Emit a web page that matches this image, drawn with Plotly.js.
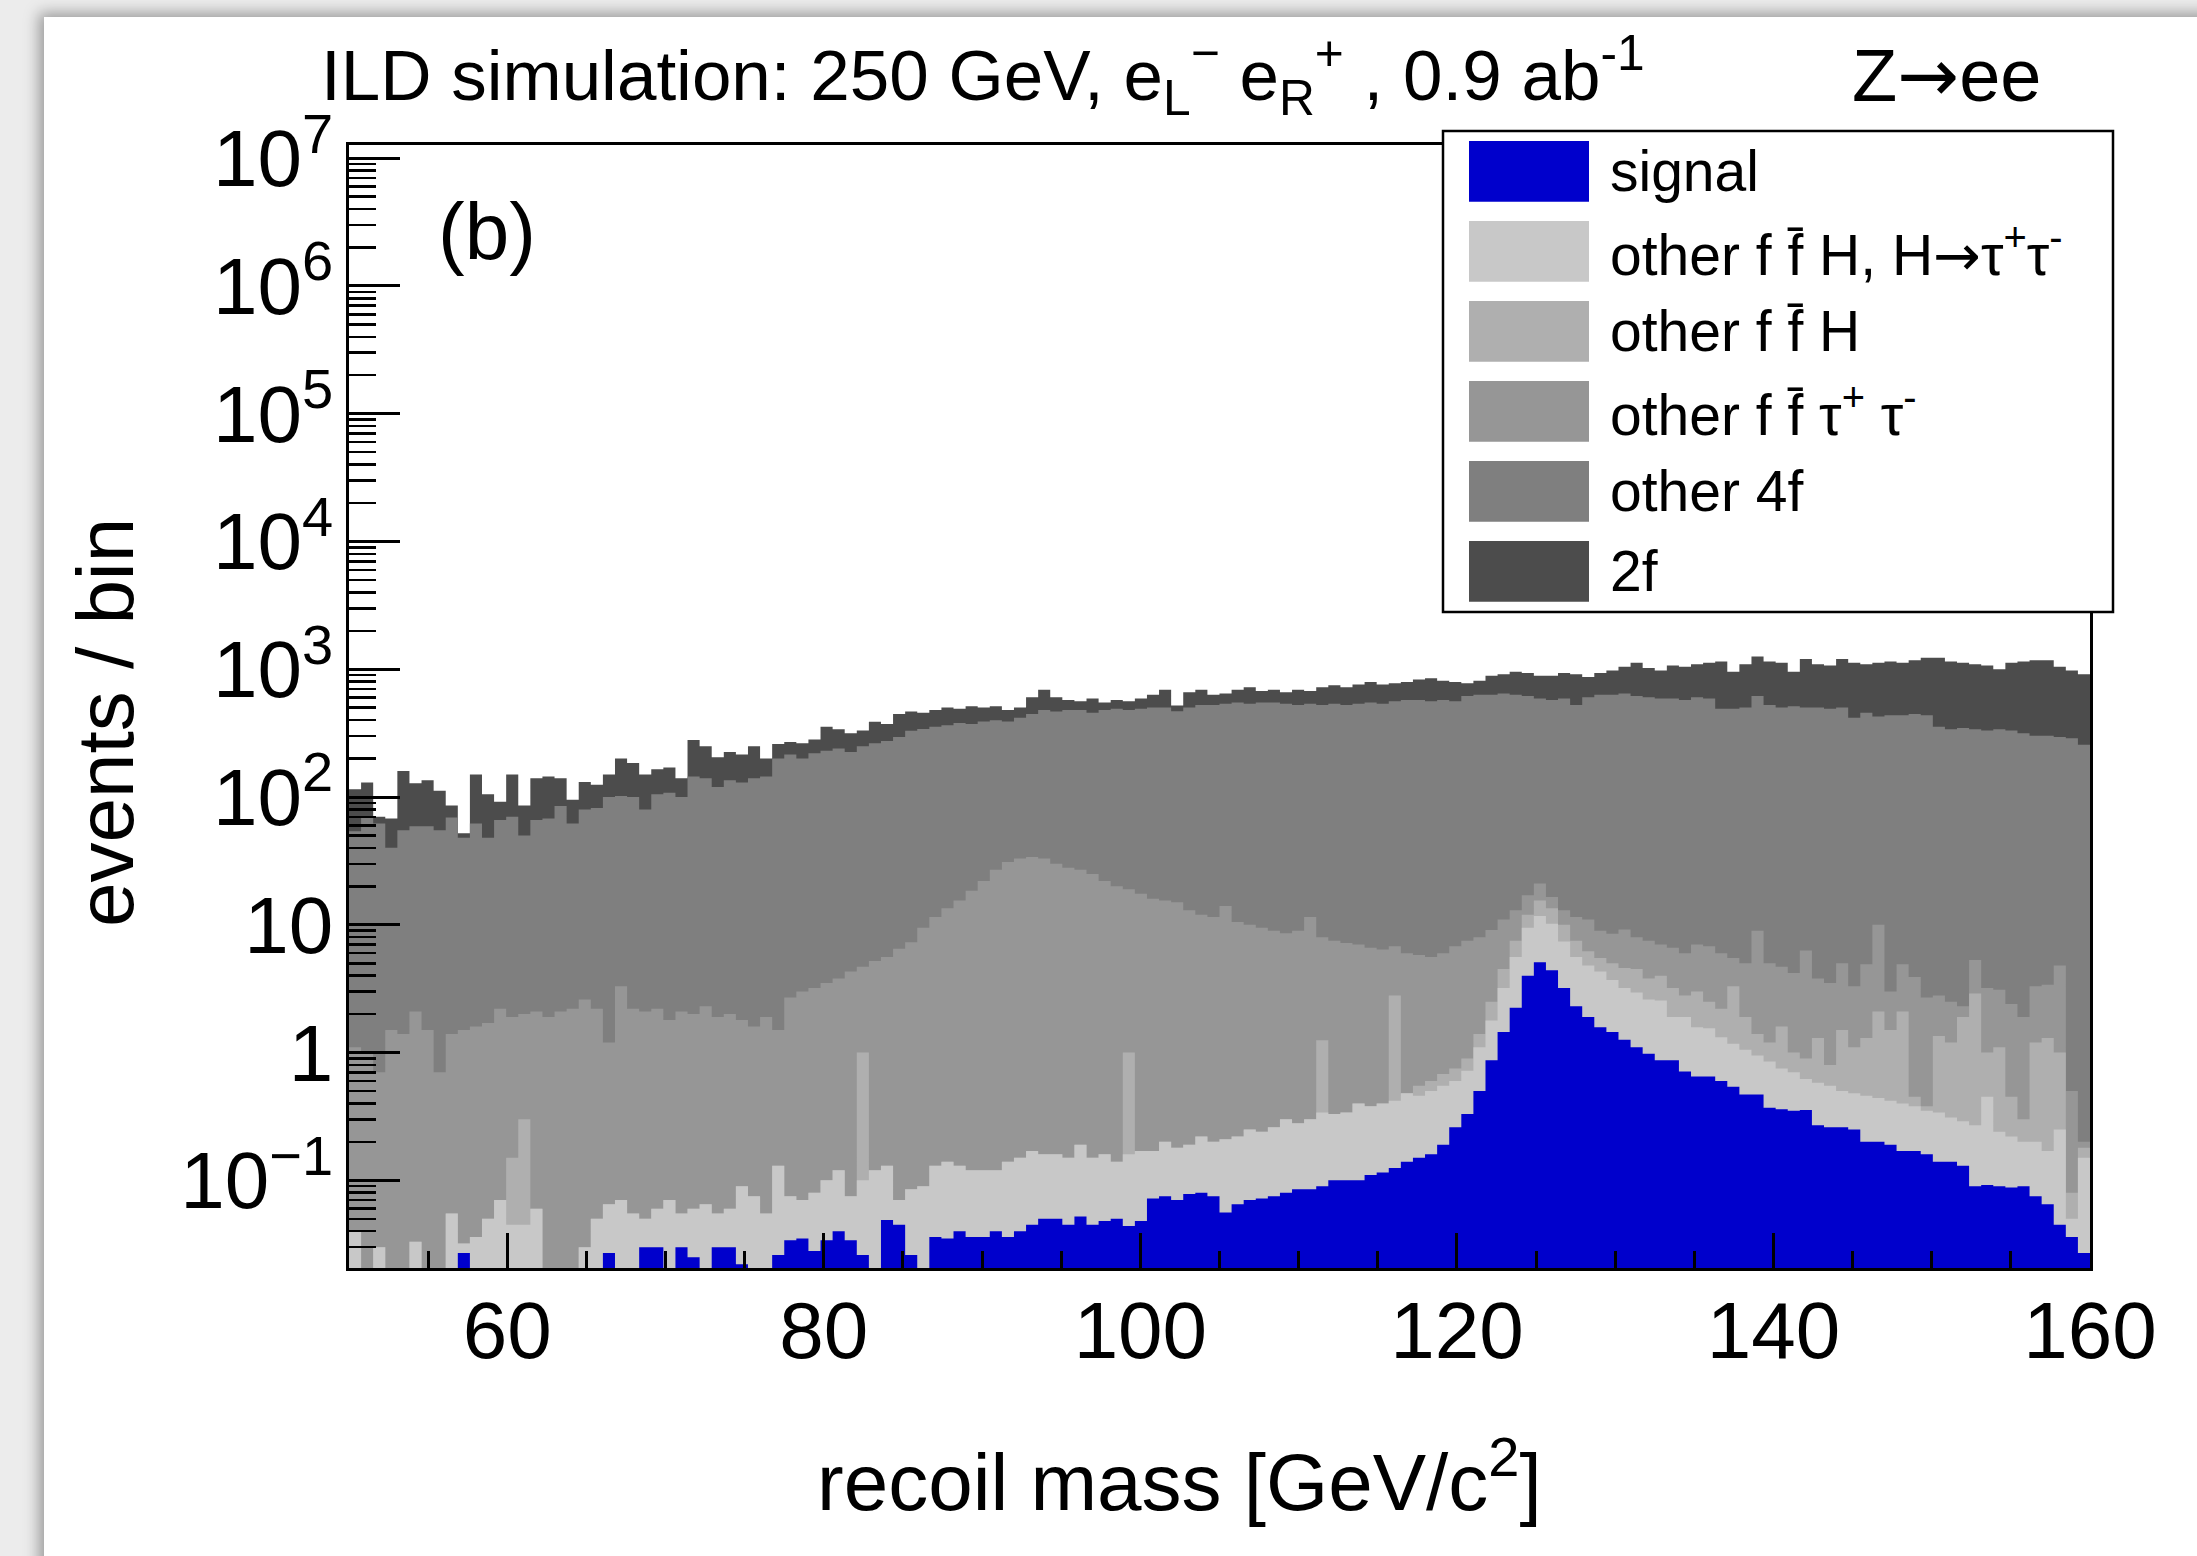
<!DOCTYPE html>
<html>
<head>
<meta charset="utf-8">
<script src="https://cdn.plot.ly/plotly-3.0.1.min.js"></script>
<style>
  html, body { margin: 0; padding: 0; }
  body { width: 2197px; height: 1556px; overflow: hidden; position: relative; background: #ececec; }
  #sheet { position: absolute; left: 44px; top: 17px; width: 2300px; height: 1700px; background: #ffffff;
           box-shadow: -3px -2px 14px 2px rgba(0,0,0,0.35); }
  #chart { position: absolute; left: 0; top: 0; width: 2197px; height: 1556px; }
</style>
</head>
<body>
<div id="sheet"></div>
<div id="chart"></div>
<script>
// ---------------- histogram binning (recoil mass, GeV) ----------------
const xLow = 50, xHigh = 160, nBins = 144;

// ---------------- stacked heights (THStack), events / bin ----------------
// each array is the height of the stack up to and including that process
const signal = [
  0,0,0,0,0,0,0,0,0,0.027,0,0,
  0,0,0,0,0,0,0,0,0,0.027,0,0,
  0.03,0.03,0,0.03,0.025,0,0.03,0.03,0.022,0,0,0.026,
  0.034,0.035,0.028,0.034,0.04,0.034,0.026,0,0.049,0.045,0.026,0,
  0.036,0.035,0.04,0.036,0.036,0.04,0.036,0.04,0.045,0.05,0.05,0.045,
  0.052,0.045,0.048,0.05,0.044,0.048,0.072,0.075,0.07,0.078,0.08,0.075,
  0.056,0.065,0.07,0.072,0.075,0.08,0.085,0.085,0.09,0.1,0.1,0.1,
  0.11,0.115,0.125,0.14,0.15,0.16,0.19,0.26,0.33,0.5,0.87,1.45,
  2.24,4.0,5.1,4.4,3.2,2.3,1.9,1.58,1.45,1.26,1.1,0.98,
  0.87,0.87,0.71,0.65,0.65,0.6,0.54,0.47,0.47,0.37,0.36,0.35,
  0.355,0.27,0.26,0.26,0.25,0.2,0.2,0.19,0.17,0.17,0.16,0.14,
  0.14,0.13,0.09,0.092,0.09,0.088,0.09,0.075,0.065,0.045,0.036,0.027
];
const stackFfHTauTau = [
  0.04,0,0.03,0,0,0.033,0,0,0.055,0.032,0.036,0.05,
  0.07,0.045,0.045,0.06,0,0,0,0.03,0.05,0.065,0.07,0.055,
  0.05,0.06,0.07,0.055,0.06,0.065,0.055,0.06,0.09,0.075,0.055,0.13,
  0.075,0.07,0.08,0.1,0.12,0.075,0.1,0.12,0.13,0.07,0.085,0.09,
  0.13,0.14,0.13,0.12,0.12,0.12,0.14,0.15,0.17,0.16,0.16,0.15,
  0.19,0.15,0.16,0.14,0.16,0.17,0.17,0.2,0.18,0.19,0.22,0.2,
  0.21,0.22,0.25,0.24,0.26,0.3,0.28,0.3,0.34,0.33,0.34,0.4,
  0.38,0.4,0.42,0.48,0.46,0.5,0.55,0.6,0.72,1.1,1.78,3.2,
  5.6,9.5,11.7,10.2,7.4,5.6,4.8,4.3,3.7,3.2,2.95,2.6,
  2.55,1.9,1.9,1.58,1.55,1.32,1.17,1.05,0.95,0.85,0.75,0.7,
  0.62,0.58,0.55,0.5,0.48,0.46,0.44,0.42,0.4,0.38,0.35,0.34,
  0.31,0.29,0.27,0.45,0.24,0.22,0.2,0.2,0.17,0.25,0.05,0.15
];
const stackFfH = [
  0.04,0,0.03,0,0,0.033,0,0,0.055,0.032,0.036,0.05,
  0.07,0.15,0.3,0.06,0,0,0,0.03,0.05,0.065,0.07,0.055,
  0.05,0.06,0.07,0.055,0.06,0.065,0.055,0.06,0.09,0.075,0.055,0.13,
  0.075,0.07,0.08,0.1,0.12,0.075,1.0,0.12,0.13,0.07,0.085,0.09,
  0.13,0.14,0.13,0.12,0.12,0.12,0.14,0.15,0.17,0.16,0.16,0.15,
  0.19,0.15,0.16,0.14,1.0,0.17,0.17,0.2,0.18,0.19,0.22,0.2,
  0.21,0.22,0.25,0.24,0.26,0.3,0.28,0.3,1.25,0.33,0.34,0.4,
  0.38,0.4,2.8,0.48,0.55,0.6,0.68,0.75,0.9,1.4,2.5,4.5,
  7.5,12,15.5,13.5,10,7.5,6.2,5.5,5,4.6,4.5,3.8,
  4,3.2,2.8,3.0,2.5,2.2,3.3,1.9,1.4,1.2,1.6,1.0,
  0.9,1.3,0.8,1.5,1.1,1.3,2.1,1.5,2.1,0.45,0.38,1.35,
  1.2,1.9,2.9,1.0,1.1,0.45,0.3,1.2,1.3,1.0,0.08,0.18
];
const stackFfTauTau = [
  1.1,1.0,0.7,1.5,1.4,2.1,1.5,0.7,1.4,1.5,1.6,1.7,
  2.2,1.9,2.0,2.1,1.9,2.1,2.2,2.6,2.2,1.2,3.3,2.2,
  2.1,2.2,1.8,2.1,2.0,2.3,1.9,2.0,1.8,1.6,1.9,1.5,
  2.7,3.0,3.2,3.5,3.8,4.3,4.7,5.2,5.6,6.5,7.3,9.5,
  11.5,13.5,15.5,18.5,22,27,31,33,34,33,30,28,
  27,25,22,20,19,17.5,16,15.5,15,13,12,11.5,
  14,10.5,10,9.5,9,8.6,9,11.5,8,7.5,7.2,7,
  6.6,6.4,6.8,6,5.8,5.6,6,6.8,7.5,8,9.1,11,
  13,17,21,16.5,13,11.5,11,9,8.5,9.2,8,7.5,
  7,6.6,6,7,6.8,6,5.5,5,9,5,4.7,4.2,
  6.3,3.8,3.5,5,3.3,4.9,10,3,4.9,3.9,2.7,2.8,
  2.5,2.3,5.3,3.2,3.1,2.4,1.9,3.3,3.4,4.8,0.5,0.2
];
const stack4f = [
  54,70,62,40,55,59,59,55,69,48,62,48,
  66,70,50,66,68,85,62,80,82,100,102,100,
  80,105,108,100,145,140,120,135,130,140,145,200,
  215,200,220,230,240,225,250,263,275,295,330,340,
  355,365,380,372,390,398,390,417,447,479,468,479,
  479,457,479,490,479,490,501,501,470,501,525,525,
  537,550,537,550,550,537,525,537,525,537,525,537,
  550,537,562,575,575,562,575,562,617,631,631,646,
  631,617,589,575,589,525,603,631,631,646,617,603,
  589,589,575,603,589,490,490,501,617,525,501,513,
  501,501,490,501,417,457,427,437,437,447,437,355,
  339,347,339,331,339,331,316,302,302,295,288,257
];
const stack2f = [
  115,130,70,68,160,128,135,112,86,52,150,105,
  92,150,86,140,145,140,95,131,125,150,200,185,
  150,165,170,140,280,250,205,225,215,250,200,260,
  270,263,282,355,339,316,331,389,372,447,468,457,
  479,501,490,513,501,513,479,501,603,692,603,575,
  562,589,550,575,562,589,631,692,520,661,692,631,
  646,692,724,676,692,661,692,676,724,750,724,759,
  794,759,776,794,832,851,813,794,776,813,891,912,
  955,933,891,891,933,912,871,933,977,1047,1122,1023,
  977,1072,1047,1096,1122,1148,955,1096,1259,1148,1122,955,
  1202,1096,1072,1202,1122,1096,1122,1148,1122,1175,1230,1230,
  1148,1122,1096,1072,1000,1122,1148,1175,1175,1047,977,912
];

// ---------------- processes: legend order (top to bottom) ----------------
const ARROW = '<span style="font-family:\'DejaVu Sans\'">\u2192</span>';
const processNames = ['signal',
                      'other f f\u0304 H, H' + ARROW + '\u03c4<sup>+</sup>\u03c4<sup>-</sup>',
                      'other f f\u0304 H',
                      'other f f\u0304 \u03c4<sup>+</sup> \u03c4<sup>-</sup>',
                      'other 4f', '2f'];
const processColors = ['#0000cc', '#c8c8c8', '#afafaf', '#969696', '#7f7f7f', '#4c4c4c'];
const processStacks = [signal, stackFfHTauTau, stackFfH, stackFfTauTau, stack4f, stack2f];

// ---------------- traces: one filled step outline per stack level ----------------
const binWidth = (xHigh - xLow) / nBins;
const binEdges = Array.from({length: nBins + 1}, (_, i) => xLow + i * binWidth);
const FLOOR = 1e-4;   // below the visible axis range: closes the filled area

function stepOutline(values) {
  const xs = [], ys = [];
  for (let i = 0; i < nBins; i++) {
    xs.push(binEdges[i]);
    ys.push(values[i] > 0 ? values[i] : FLOOR);
  }
  xs.push(xHigh, xHigh, xLow);
  ys.push(values[nBins - 1] > 0 ? values[nBins - 1] : FLOOR, FLOOR, FLOOR);
  return {xs, ys};
}

const traces = [];
for (let k = processStacks.length - 1; k >= 0; k--) {   // tallest drawn first
  const o = stepOutline(processStacks[k]);
  traces.push({
    type: 'scatter', mode: 'lines',
    x: o.xs, y: o.ys,
    line: {shape: 'hv', width: 0, color: processColors[k]},
    fill: 'toself', fillcolor: processColors[k],
    name: processNames[k],
    hoverinfo: 'skip'
  });
}

// ---------------- layout geometry (pixels) ----------------
const W = 2197, H = 1556;
const L = 349, R = 2090, T = 145, B = 1268;
const px = v => (v - L) / (R - L);
const py = v => (B - v) / (B - T);
const FONT = 'Liberation Sans, Arial, Helvetica, sans-serif';

const shapes = [];
const annotations = [];

// legend box
shapes.push({type: 'rect', xref: 'paper', yref: 'paper', layer: 'above',
  x0: px(1443), x1: px(2113), y0: py(612), y1: py(131),
  fillcolor: '#ffffff', line: {color: '#000', width: 2.5}});
for (let k = 0; k < processNames.length; k++) {
  const top = 141 + 80 * k, bot = 201.7 + 80 * k;
  shapes.push({type: 'rect', xref: 'paper', yref: 'paper', layer: 'above',
    x0: px(1469), x1: px(1589), y0: py(bot), y1: py(top),
    fillcolor: processColors[k], line: {width: 0}});
  annotations.push({xref: 'paper', yref: 'paper', x: px(1608), y: py((top + bot) / 2),
    xanchor: 'left', yanchor: 'middle', showarrow: false, text: processNames[k],
    font: {family: FONT, size: 57, color: '#000'}});
}

// titles and labels
annotations.push({xref: 'paper', yref: 'paper', x: px(983), y: py(75), xanchor: 'center', yanchor: 'middle',
  showarrow: false, font: {family: FONT, size: 71, color: '#000'},
  text: 'ILD simulation: 250 GeV, e<sub>L</sub><sup>\u2212</sup> e<sub>R</sub><sup>+</sup> , 0.9 ab<sup>-1</sup>'});
annotations.push({xref: 'paper', yref: 'paper', x: px(1947), y: py(75), xanchor: 'center', yanchor: 'middle',
  showarrow: false, font: {family: FONT, size: 74, color: '#000'}, text: 'Z' + ARROW + 'ee'});
annotations.push({xref: 'paper', yref: 'paper', x: px(487), y: py(231), xanchor: 'center', yanchor: 'middle',
  showarrow: false, font: {family: FONT, size: 80, color: '#000'}, text: '(b)'});
annotations.push({xref: 'paper', yref: 'paper', x: px(1179), y: py(1476), xanchor: 'center', yanchor: 'middle',
  showarrow: false, font: {family: FONT, size: 80, color: '#000'}, text: 'recoil mass [GeV/c<sup>2</sup>]'});
annotations.push({xref: 'paper', yref: 'paper', x: px(105), y: py(723), xanchor: 'center', yanchor: 'middle',
  textangle: -90, showarrow: false, font: {family: FONT, size: 80, color: '#000'}, text: 'events / bin'});

const layout = {
  width: W, height: H,
  margin: {l: L, r: W - R, t: T, b: H - B, pad: 0},
  paper_bgcolor: 'rgba(0,0,0,0)', plot_bgcolor: 'rgba(0,0,0,0)',
  showlegend: false,
  font: {family: FONT, color: '#000'},
  xaxis: {
    range: [xLow, xHigh], tickmode: 'linear', tick0: 60, dtick: 20,
    ticks: 'inside', ticklen: 35, tickwidth: 3, tickcolor: '#000',
    showline: true, linewidth: 3, linecolor: '#000', mirror: true,
    showgrid: false, zeroline: false, ticklabelstandoff: -9,
    tickfont: {family: FONT, size: 80, color: '#000'},
    minor: {tick0: 50, dtick: 5, ticks: 'inside', ticklen: 17, tickwidth: 3, tickcolor: '#000', showgrid: false}
  },
  yaxis: {
    type: 'log', range: [Math.log10(0.0206), 7.103], dtick: 1, exponentformat: 'power',
    ticks: 'inside', ticklen: 51, tickwidth: 3, tickcolor: '#000',
    showline: true, linewidth: 3, linecolor: '#000', mirror: true,
    showgrid: false, zeroline: false,
    tickfont: {family: FONT, size: 64, color: '#000'},
    minor: {dtick: 'D1', ticks: 'inside', ticklen: 27, tickwidth: 2.5, tickcolor: '#000', showgrid: false}
  },
  shapes: shapes,
  annotations: annotations
};

Plotly.newPlot('chart', traces, layout, {staticPlot: true, displayModeBar: false});
</script>
</body>
</html>
